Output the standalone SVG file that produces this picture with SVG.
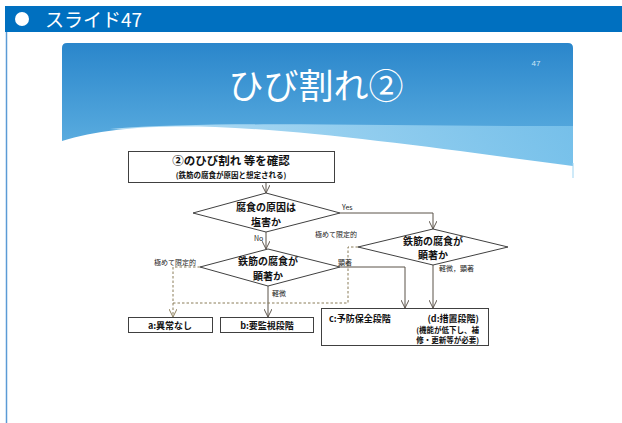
<svg xmlns="http://www.w3.org/2000/svg" width="622" height="423" viewBox="0 0 622 423">
<style>
.jp{font-family:"Noto Sans CJK JP","Liberation Sans",sans-serif;font-weight:bold;fill:#111}
.lbl{font-family:"Noto Sans CJK JP","Liberation Serif",serif;font-size:7px;fill:#222}
.box{fill:#fff;stroke:#404040;stroke-width:1}
.dia{fill:#fff;stroke:#404040;stroke-width:1}
.con{fill:none;stroke:#5a5248;stroke-width:1}
.dash{fill:none;stroke:#8a7c58;stroke-width:1;stroke-dasharray:2.5,2}
</style>
<defs>
<linearGradient id="sky" x1="0" y1="0" x2="0" y2="1">
<stop offset="0" stop-color="#2a86cb"/>
<stop offset="1" stop-color="#6ab9e6"/>
</linearGradient>
<linearGradient id="band" x1="0" y1="0" x2="1" y2="0">
<stop offset="0" stop-color="#c8e8f8"/>
<stop offset="0.5" stop-color="#9fd5f2"/>
<stop offset="1" stop-color="#7cc4ec"/>
</linearGradient>
<marker id="arr" viewBox="0 0 10 10" refX="10" refY="5" markerWidth="8" markerHeight="8" markerUnits="userSpaceOnUse" orient="auto">
<path d="M0,0 L10,5 L0,10" fill="none" stroke="#5a5248" stroke-width="1.2"/>
</marker>
<marker id="arrd" viewBox="0 0 10 10" refX="10" refY="5" markerWidth="8" markerHeight="8" markerUnits="userSpaceOnUse" orient="auto">
<path d="M0,0 L10,5 L0,10" fill="none" stroke="#8a7c58" stroke-width="1.2"/>
</marker>
</defs>
<rect width="622" height="423" fill="#fff"/>
<g id="header">
<rect x="5" y="6" width="617" height="26" fill="#0070c0"/>
<line x1="6.5" y1="32" x2="6.5" y2="423" stroke="#5b9bd5" stroke-width="1.5"/>
<circle cx="22" cy="19" r="7" fill="#fff"/>
<text x="45" y="27" font-family="'Noto Sans CJK JP','Liberation Sans',sans-serif" font-size="19" fill="#fff">スライド47</text>
</g>
<g id="slide">
<path d="M62,48 Q62,43 67,43 L568,43 Q573,43 573,48 L573,178 L62,178 Z" fill="url(#sky)"/>
<path d="M110,129 C220,120 400,127 573,126 L573,166 C450,152 300,140 110,129 Z" fill="url(#band)" opacity="0.85"/>
<path d="M62,141 C100,129 150,125 215,127 C320,131 450,150 573,166 L573,180 L62,180 Z" fill="#fff"/>
<line x1="573" y1="163" x2="573" y2="178" stroke="#9fd5f2" stroke-width="1"/>
<text x="316" y="99" text-anchor="middle" font-family="'Noto Sans CJK JP',serif" font-size="35" fill="#fff">ひび割れ②</text>
<text x="536" y="66" text-anchor="middle" font-family="'Liberation Sans',sans-serif" font-size="8" fill="#cfe6f6">47</text>
</g>
<g id="connectors">
<polyline class="con" points="266,182 266,193" marker-end="url(#arr)"/>
<polyline class="con" points="340,213 433,213 433,229" marker-end="url(#arr)"/>
<polyline class="con" points="266,232 266,249" marker-end="url(#arr)"/>
<polyline class="con" points="340,267 405,267 405,308" marker-end="url(#arr)"/>
<polyline class="con" points="268,286 268,317" marker-end="url(#arr)"/>
<polyline class="con" points="433,265 433,308" marker-end="url(#arr)"/>
<polyline class="dash" points="200,267 173,267 173,317" marker-end="url(#arrd)"/>
<polyline class="dash" points="358,247 348,247 348,303 173,303"/>
<text class="lbl" x="342" y="210">Yes</text>
<text class="lbl" x="254" y="241">No</text>
<text class="lbl" x="315" y="237">極めて限定的</text>
<text class="lbl" x="154" y="265">極めて限定的</text>
<text class="lbl" x="338" y="265">顕著</text>
<text class="lbl" x="272" y="296">軽微</text>
<text class="lbl" x="439" y="271">軽微，顕著</text>
</g>
<g id="start">
<rect class="box" x="128.5" y="151.5" width="206" height="31"/>
<text class="jp" x="231" y="165" text-anchor="middle" font-size="11.5">②のひび割れ 等を確認</text>
<text class="jp" x="231" y="178" text-anchor="middle" font-size="7.5">(鉄筋の腐食が原因と想定される)</text>
</g>
<g id="d1">
<polygon class="dia" points="266,193 340,213 266,232 193,213"/>
<text class="jp" x="266" y="211" text-anchor="middle" font-size="10">腐食の原因は</text>
<text class="jp" x="266" y="226" text-anchor="middle" font-size="10">塩害か</text>
</g>
<g id="d2">
<polygon class="dia" points="268,249 340,267 268,286 200,267"/>
<text class="jp" x="268" y="265" text-anchor="middle" font-size="10">鉄筋の腐食が</text>
<text class="jp" x="268" y="280" text-anchor="middle" font-size="10">顕著か</text>
</g>
<g id="d3">
<polygon class="dia" points="433,229 508,247 433,265 358,247"/>
<text class="jp" x="433" y="245" text-anchor="middle" font-size="10">鉄筋の腐食が</text>
<text class="jp" x="433" y="259" text-anchor="middle" font-size="10">顕著か</text>
</g>
<g id="a">
<rect class="box" x="128.5" y="317.5" width="84" height="15"/>
<text class="jp" x="170" y="328.5" text-anchor="middle" font-size="9">a:異常なし</text>
</g>
<g id="b">
<rect class="box" x="220.5" y="317.5" width="93" height="15"/>
<text class="jp" x="267" y="328.5" text-anchor="middle" font-size="9">b:要監視段階</text>
</g>
<g id="c">
<rect class="box" x="321.5" y="308.5" width="167" height="37"/>
<text class="jp" x="329" y="322" font-size="9">c:予防保全段階</text>
<text class="jp" x="479" y="322" text-anchor="end" font-size="9">(d:措置段階)</text>
<text class="jp" x="479" y="333" text-anchor="end" font-size="7.5">(機能が低下し、補</text>
<text class="jp" x="479" y="343" text-anchor="end" font-size="7.5">修・更新等が必要)</text>
</g>
</svg>
